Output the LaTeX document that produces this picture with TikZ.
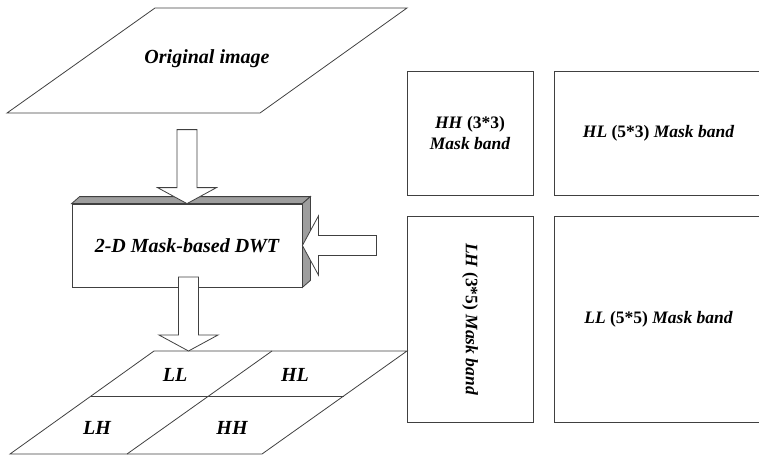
\documentclass[tikz,border=0pt]{standalone}
\usepackage{fontspec}
\setmainfont{Liberation Serif}
\usetikzlibrary{positioning,calc}

\begin{document}
\begin{tikzpicture}[
  x=1pt, y=-1pt,
  ln/.style={draw=black!75, line width=0.8pt, line join=miter},
  lbl/.style={font=\fontsize{20}{24}\selectfont\bfseries\itshape, inner sep=0pt},
  band/.style={font=\fontsize{17.5}{20.5}\selectfont\bfseries\itshape, align=center, inner sep=0pt},
  bandbox/.style={ln, minimum height=124pt, inner sep=0pt},
  face/.style={ln, fill=black!38},
  blockarr/.pic={\draw[ln, fill=white] (0,0) -- (29.5,-16) -- (10,-16) -- (10,-74)
      -- (-10,-74) -- (-10,-16) -- (-29.5,-16) -- cycle;}
]
\clip (0,0) rectangle (759,455);

% original image
\draw[ln] (155,8) -- (407,8) -- (260,113) -- (7,113) -- cycle;
\node[lbl] (orig) at (207,59) {Original image};

% 2-D DWT block
\node[ln, minimum width=230pt, minimum height=83pt, inner sep=0pt] (dwt) at (187,245.5) {};
\draw[face] (dwt.north west) -- ++(8,-7) -- ($(dwt.north east)+(8,-7)$) -- (dwt.north east) -- cycle;
\draw[face] (dwt.north east) -- ++(8,-7) -- ($(dwt.south east)+(8,-7)$) -- (dwt.south east) -- cycle;
\node[lbl] (dwtl) at (dwt.center) {2-D Mask-based DWT};

% sub-band grid
\coordinate (g1) at (154,351);
\coordinate (g2) at (407,351);
\coordinate (g3) at (262,454);
\coordinate (g4) at (10,454);
\draw[ln] (g1) -- (g2) -- (g3) -- (g4) -- cycle;
\draw[ln] ($(g1)!0.437!(g4)$) -- ($(g2)!0.437!(g3)$);
\draw[ln] (272,351) -- (127,454);
\node[lbl] (ll) at (175,375) {LL};
\node[lbl] (hl) at (295,375) {HL};
\node[lbl] (lh) at (97,428) {LH};
\node[lbl] (hh) at (232,428) {HH};

% mask bands
\node[bandbox, minimum width=126pt] (hhb) at (470,133) {};
\node[band] at (hhb.center) {HH \textup{(3*3)}\\Mask band};
\node[bandbox, minimum width=209pt] (hlb) at (658.5,133) {};
\node[band] at (hlb.center) {HL \textup{(5*3)} Mask band};
\node[bandbox, minimum width=126pt, minimum height=206pt] (lhb) at (470,319) {};
\node[band, rotate=-90] at (lhb.center) {LH \textup{(3*5)} Mask band};
\node[bandbox, minimum width=209pt, minimum height=206pt] (llb) at (658.5,319) {};
\node[band] at (llb.center) {LL \textup{(5*5)} Mask band};

% block arrows
\pic at (dwt.north) {blockarr};
\pic[rotate=-90] at (dwt.east) {blockarr};
\coordinate (gtop) at (188.5,351);
\pic at (gtop) {blockarr};
\end{tikzpicture}
\end{document}
